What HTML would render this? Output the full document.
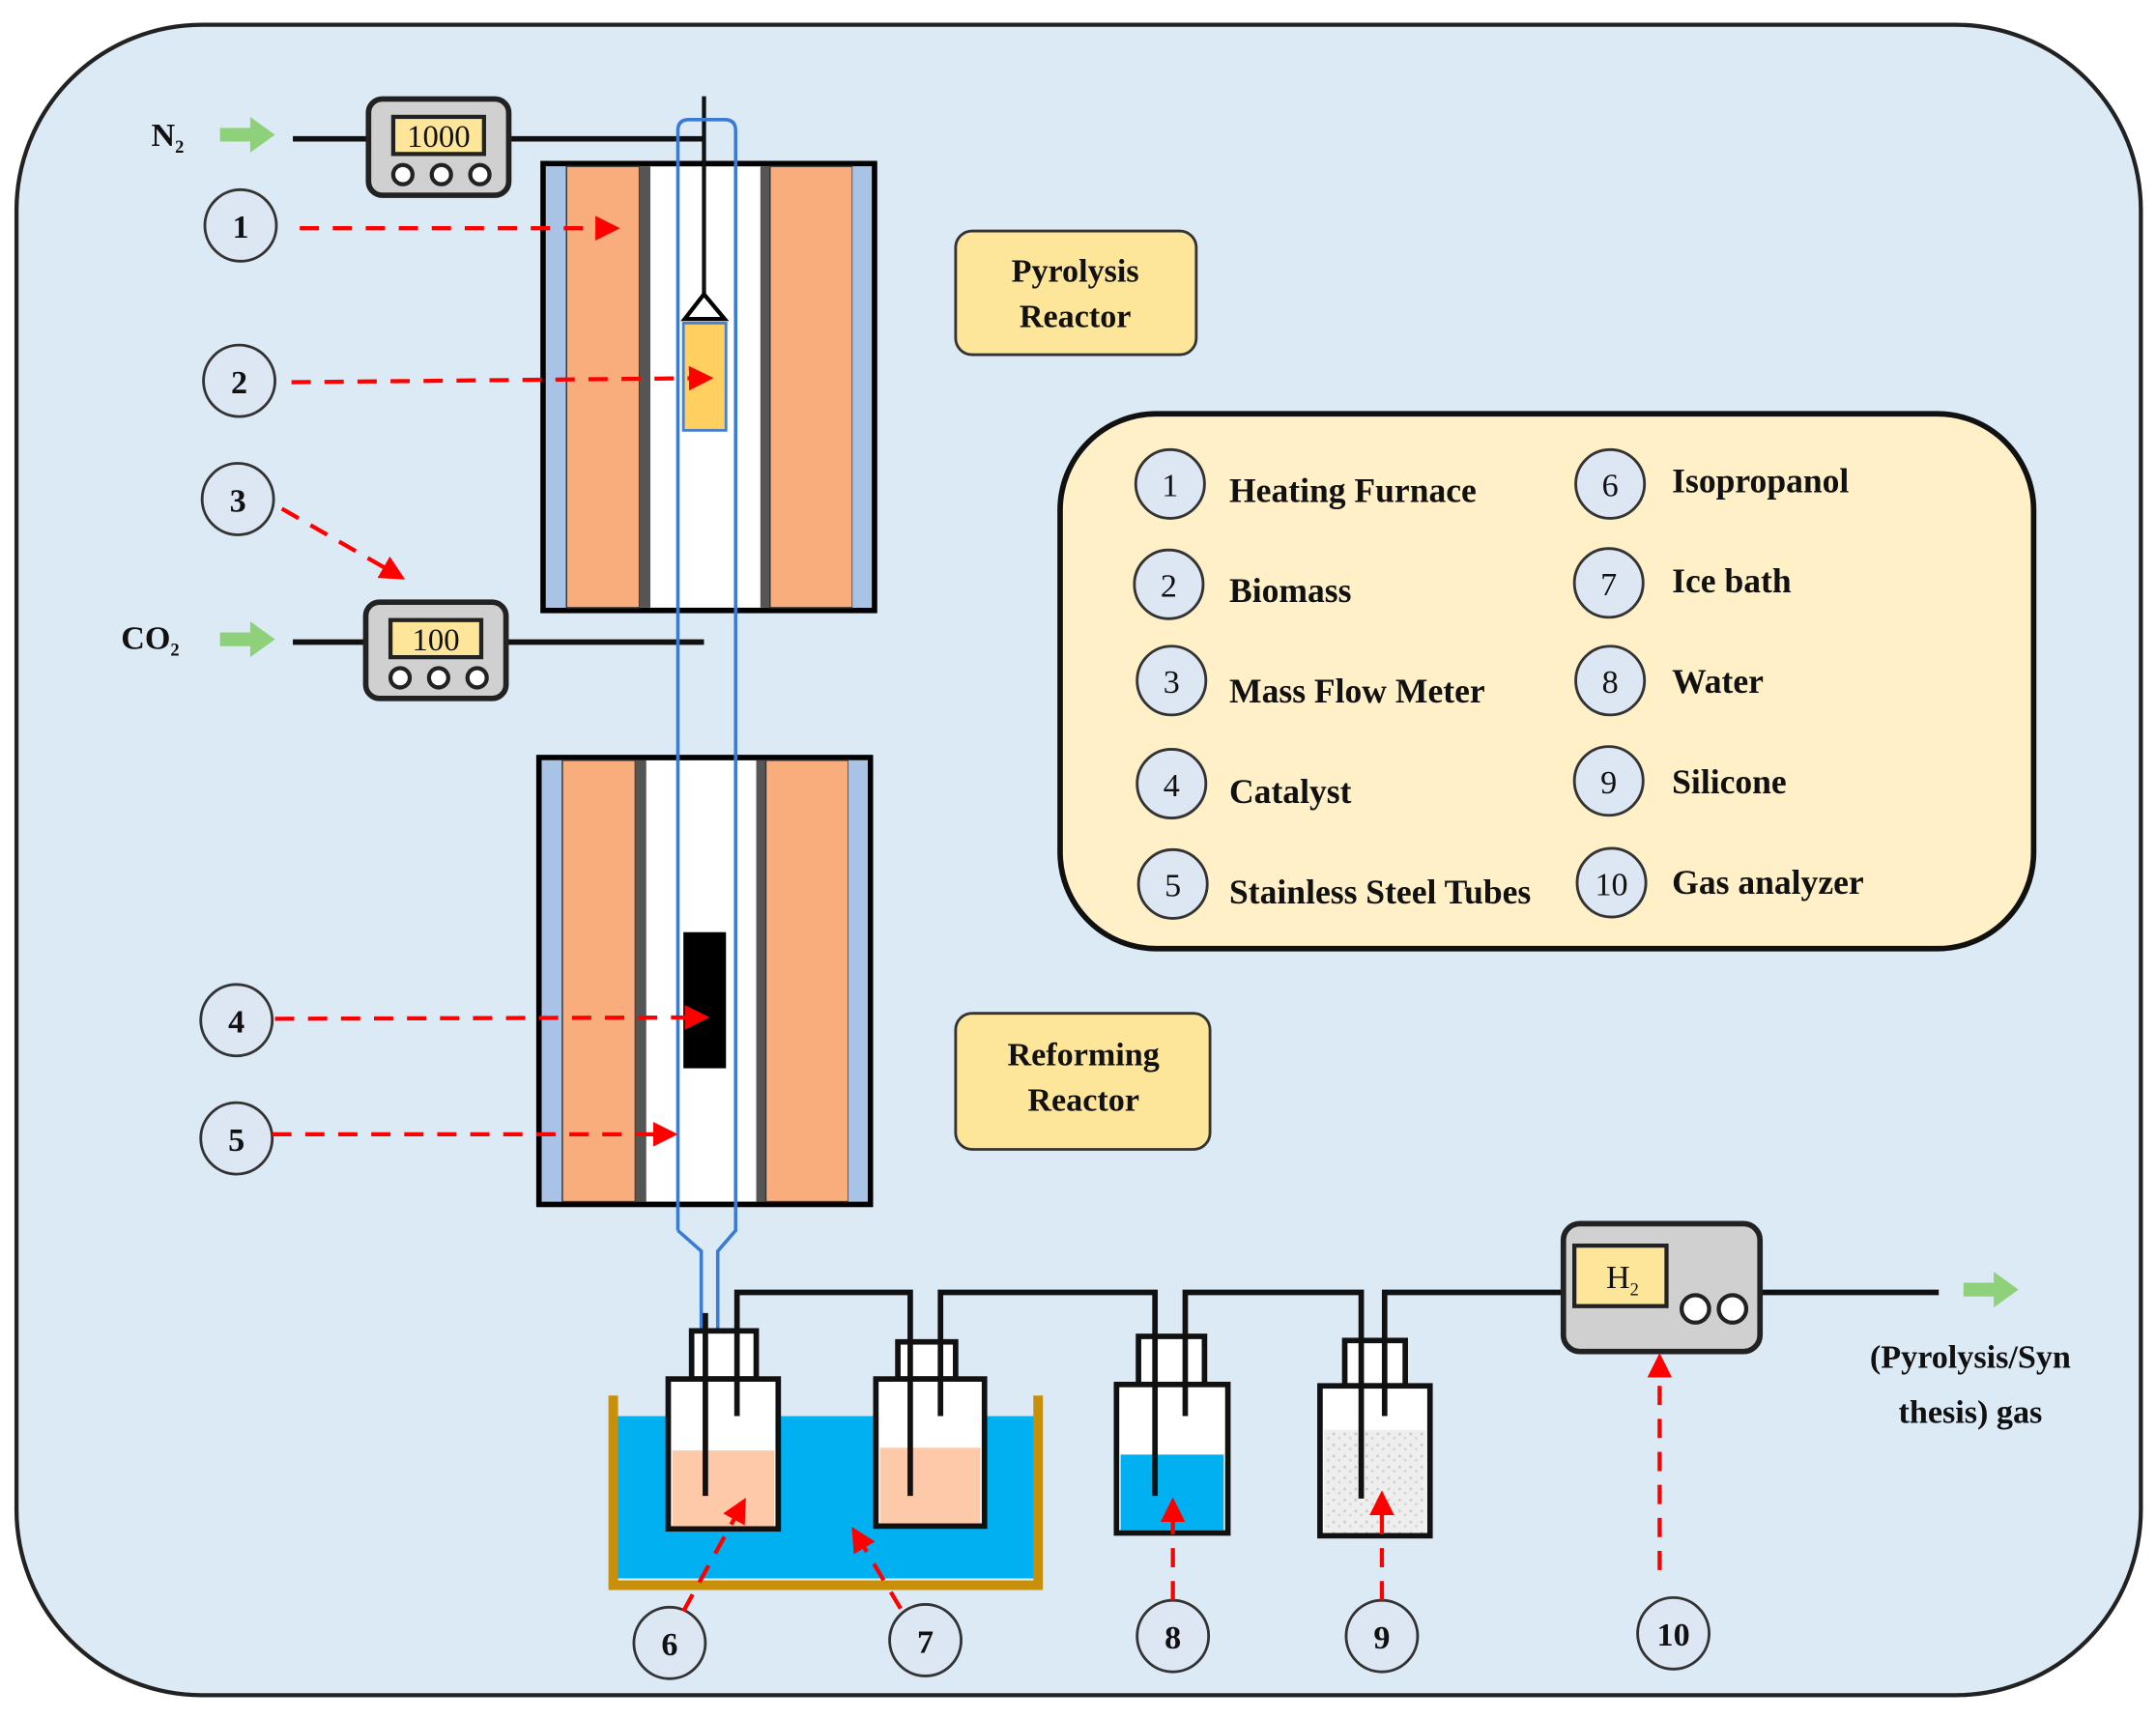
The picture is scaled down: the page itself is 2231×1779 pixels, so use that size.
<!DOCTYPE html>
<html><head><meta charset="utf-8"><style>html,body{margin:0;padding:0;background:#fff}svg{display:block}text{font-family:"Liberation Serif",serif;font-weight:bold;fill:#111}text.n{font-weight:normal}</style></head>
<body>
<svg width="2231" height="1779" viewBox="0 0 1568 1250.3" preserveAspectRatio="none" xmlns="http://www.w3.org/2000/svg">
<defs>
<marker id="ah" markerWidth="6" markerHeight="6" refX="5" refY="3" orient="auto" markerUnits="strokeWidth"><path d="M0,0 L6,3 L0,6 z" fill="#f00"/></marker>
<pattern id="sp" width="8" height="8" patternUnits="userSpaceOnUse"><rect width="8" height="8" fill="#eee"/><circle cx="2" cy="3" r="1" fill="#ccc"/><circle cx="6" cy="6" r="1" fill="#d4d4d4"/></pattern>
<path id="garr" d="M0,-5 L22,-5 L22,-13 L40,0 L22,13 L22,5 L0,5 Z" fill="#8fd07a"/>
</defs>
<rect x="0" y="0" width="1568" height="1251" fill="#fff"/>
<rect x="12" y="18" width="1545" height="1215" rx="135" fill="#dceaf6" stroke="#222" stroke-width="3"/>

<use href="#garr" transform="translate(160,98)"/>
<use href="#garr" transform="translate(160,465)"/>
<use href="#garr" transform="translate(1428,938)"/>
<text x="110" y="106" font-size="24">N<tspan font-size="13" dy="5">2</tspan></text>
<text x="88" y="472" font-size="24">CO<tspan font-size="13" dy="5">2</tspan></text>

<g id="furn">
<rect x="395" y="119" width="241" height="325" fill="#fff" stroke="#000" stroke-width="4"/>
<rect x="397" y="121" width="15" height="321" fill="#a9c3e6"/>
<rect x="412" y="121" width="53" height="321" fill="#f9ad7d" stroke="#333" stroke-width="1"/>
<rect x="465" y="121" width="8" height="321" fill="#555"/>
<rect x="553" y="121" width="7" height="321" fill="#555"/>
<rect x="560" y="121" width="60" height="321" fill="#f9ad7d" stroke="#333" stroke-width="1"/>
<rect x="620" y="121" width="14" height="321" fill="#a9c3e6"/>
</g>
<use href="#furn" transform="translate(-3,432)"/>

<g stroke="#111" stroke-width="4" fill="none">
<line x1="213" y1="101" x2="268" y2="101"/><line x1="370" y1="101" x2="512" y2="101"/>
<line x1="213" y1="467" x2="266" y2="467"/><line x1="368" y1="467" x2="512" y2="467"/>
<line x1="512" y1="70" x2="512" y2="216" stroke-width="3"/>
</g>
<path d="M512,214 L498,232 L527,232 Z" fill="#fff" stroke="#000" stroke-width="3"/>
<rect x="497" y="235" width="31" height="78" fill="#ffd060" stroke="#4a7fd0" stroke-width="2"/>
<rect x="497" y="678" width="31" height="99" fill="#000"/>
<path d="M493,895 L493,95 Q493,87 501,87 L527,87 Q535,87 535,95 L535,895 L522,910 L522,968 M493,895 L510,910 L510,968" fill="none" stroke="#3a7bd5" stroke-width="2.5"/>

<g id="mfm">
<rect x="268" y="72" width="102" height="70" rx="10" fill="#d0d0d0" stroke="#222" stroke-width="4"/>
<rect x="286" y="85" width="66" height="27" fill="#fde59a" stroke="#222" stroke-width="3"/>
<circle cx="293" cy="127" r="7" fill="#fff" stroke="#222" stroke-width="3"/><circle cx="321" cy="127" r="7" fill="#fff" stroke="#222" stroke-width="3"/><circle cx="349" cy="127" r="7" fill="#fff" stroke="#222" stroke-width="3"/>
</g>
<use href="#mfm" transform="translate(-2,366)"/>
<text class="n" x="319" y="107" font-size="23" text-anchor="middle">1000</text>
<text class="n" x="317" y="473" font-size="23" text-anchor="middle">100</text>

<rect x="695" y="168" width="175" height="90" rx="12" fill="#fde59a" stroke="#333" stroke-width="2"/>
<text x="782" y="205" font-size="24" text-anchor="middle">Pyrolysis</text><text x="782" y="238" font-size="24" text-anchor="middle">Reactor</text>
<rect x="695" y="737" width="185" height="99" rx="12" fill="#fde59a" stroke="#333" stroke-width="2"/>
<text x="788" y="775" font-size="24" text-anchor="middle">Reforming</text><text x="788" y="808" font-size="24" text-anchor="middle">Reactor</text>

<rect x="771" y="301" width="708" height="389" rx="70" fill="#fff0c8" stroke="#111" stroke-width="4"/>
<g fill="#dde6f3" stroke="#333" stroke-width="2">
<circle cx="851" cy="352" r="25"/><circle cx="850" cy="425" r="25"/><circle cx="852" cy="495" r="25"/><circle cx="852" cy="570" r="25"/><circle cx="853" cy="643" r="25"/>
<circle cx="1171" cy="352" r="25"/><circle cx="1170" cy="424" r="25"/><circle cx="1171" cy="495" r="25"/><circle cx="1170" cy="568" r="25"/><circle cx="1172" cy="642" r="25"/>
</g>
<g font-size="24" text-anchor="middle">
<text class="n" x="851" y="361">1</text><text class="n" x="850" y="434">2</text><text class="n" x="852" y="504">3</text><text class="n" x="852" y="579">4</text><text class="n" x="853" y="652">5</text>
<text class="n" x="1171" y="361">6</text><text class="n" x="1170" y="433">7</text><text class="n" x="1171" y="504">8</text><text class="n" x="1170" y="577">9</text><text class="n" x="1172" y="651">10</text>
</g>
<g font-size="25">
<text x="894" y="365">Heating Furnace</text><text x="894" y="438">Biomass</text><text x="894" y="511">Mass Flow Meter</text><text x="894" y="584">Catalyst</text><text x="894" y="657">Stainless Steel Tubes</text>
<text x="1216" y="358">Isopropanol</text><text x="1216" y="431">Ice bath</text><text x="1216" y="504">Water</text><text x="1216" y="577">Silicone</text><text x="1216" y="650">Gas analyzer</text>
</g>

<g fill="#dde6f3" stroke="#333" stroke-width="2">
<circle cx="175" cy="164" r="26"/><circle cx="174" cy="277" r="26"/><circle cx="173" cy="363" r="26"/><circle cx="172" cy="742" r="26"/><circle cx="172" cy="828" r="26"/>
<circle cx="487" cy="1195" r="26"/><circle cx="673" cy="1193" r="26"/><circle cx="853" cy="1190" r="26"/><circle cx="1005" cy="1190" r="26"/><circle cx="1217" cy="1188" r="26"/>
</g>
<g font-size="24" text-anchor="middle">
<text x="175" y="173">1</text><text x="174" y="286">2</text><text x="173" y="372">3</text><text x="172" y="751">4</text><text x="172" y="837">5</text>
<text x="487" y="1204">6</text><text x="673" y="1202">7</text><text x="853" y="1199">8</text><text x="1005" y="1199">9</text><text x="1217" y="1197">10</text>
</g>

<rect x="446" y="1030" width="309" height="118" fill="#00b0f0"/>
<path d="M446,1015 L446,1153 L755,1153 L755,1015" fill="none" stroke="#c8900a" stroke-width="7"/>
<g stroke="#111" stroke-width="4">
<rect x="503" y="968" width="47" height="35" fill="#fff"/>
<rect x="486" y="1003" width="80" height="109" fill="#fff"/>
<rect x="653" y="976" width="42" height="27" fill="#fff"/>
<rect x="637" y="1003" width="79" height="107" fill="#fff"/>
<rect x="828" y="972" width="48" height="35" fill="#fff"/>
<rect x="812" y="1007" width="81" height="108" fill="#fff"/>
<rect x="978" y="975" width="44" height="33" fill="#fff"/>
<rect x="960" y="1008" width="80" height="109" fill="#fff"/>
</g>
<rect x="489" y="1055" width="74" height="55" fill="#fdc9a8"/>
<rect x="640" y="1053" width="73" height="55" fill="#fdc9a8"/>
<rect x="815" y="1058" width="75" height="55" fill="#00b0f0"/>
<rect x="963" y="1040" width="74" height="75" fill="url(#sp)"/>
<g stroke="#111" stroke-width="4" fill="none">
<line x1="513" y1="955" x2="513" y2="1088"/>
<path d="M536,1030 L536,940 L662,940 L662,1088"/>
<path d="M684,1030 L684,940 L840,940 L840,1088"/>
<path d="M862,1030 L862,940 L990,940 L990,1090"/>
<path d="M1007,1030 L1007,940 L1137,940"/>
<line x1="1280" y1="940" x2="1410" y2="940"/>
</g>
<rect x="1137" y="890" width="143" height="93" rx="12" fill="#d0d0d0" stroke="#222" stroke-width="4"/>
<rect x="1145" y="906" width="67" height="44" fill="#fde59a" stroke="#222" stroke-width="3"/>
<text class="n" x="1180" y="937" font-size="24" text-anchor="middle">H<tspan font-size="13" dy="5">2</tspan></text>
<circle cx="1233" cy="952" r="10" fill="#fff" stroke="#222" stroke-width="3"/><circle cx="1260" cy="952" r="10" fill="#fff" stroke="#222" stroke-width="3"/>
<text x="1433" y="995" font-size="24" text-anchor="middle">(Pyrolysis/Syn</text>
<text x="1433" y="1035" font-size="24" text-anchor="middle">thesis) gas</text>

<g stroke="#f00" stroke-width="3" stroke-dasharray="14,10" fill="none" marker-end="url(#ah)">
<line x1="218" y1="166" x2="448" y2="166"/>
<line x1="212" y1="278" x2="516" y2="275"/>
<line x1="205" y1="370" x2="292" y2="420"/>
<line x1="200" y1="741" x2="513" y2="740"/>
<line x1="198" y1="825" x2="490" y2="825"/>
<line x1="497" y1="1172" x2="541" y2="1092"/>
<line x1="655" y1="1170" x2="621" y2="1113"/>
<line x1="853" y1="1164" x2="853" y2="1092"/>
<line x1="1005" y1="1164" x2="1005" y2="1087"/>
<line x1="1207" y1="1142" x2="1207" y2="987"/>
</g>
</svg>
</body></html>
